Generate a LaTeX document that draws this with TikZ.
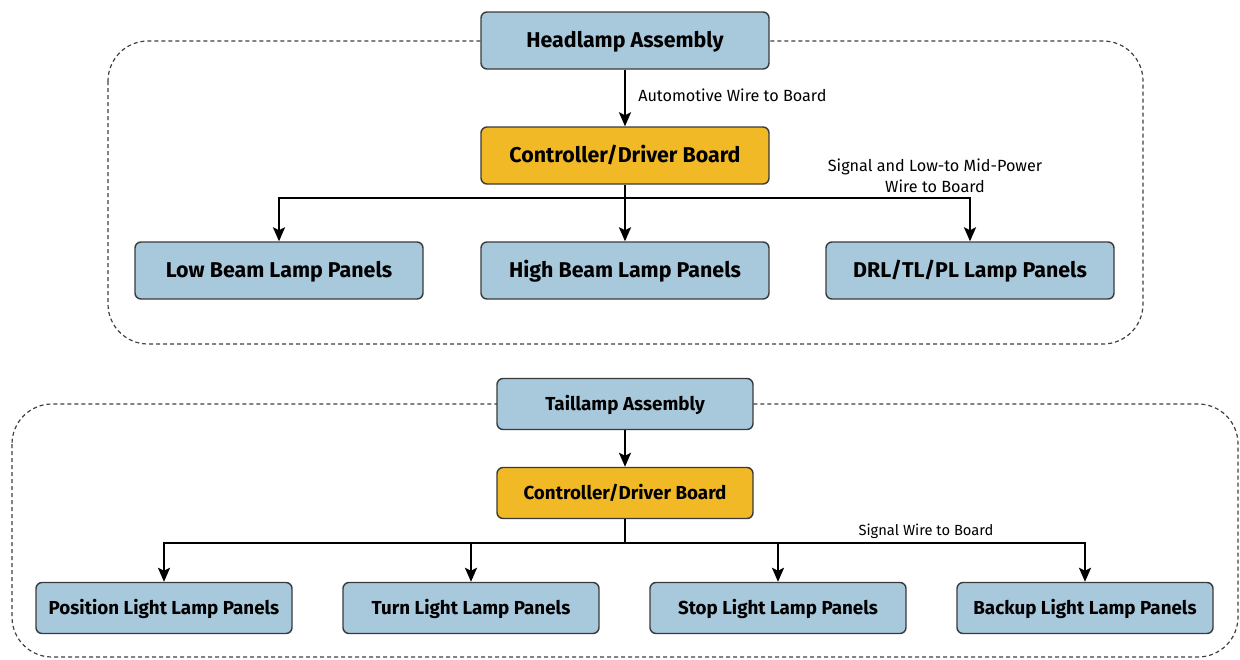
\documentclass[tikz,border=0pt]{standalone}
\usepackage{fontspec}
\setmainfont{Fira Sans}
\usetikzlibrary{arrows.meta}
\definecolor{boxblue}{HTML}{A8C8DC}
\definecolor{boxyellow}{HTML}{F2B927}
\definecolor{edge}{HTML}{3A3A3A}
\begin{document}
\begin{tikzpicture}[x=1pt,y=-1pt,
  bigbox/.style={draw=edge,line width=1.4pt,rounded corners=6pt,minimum width=288pt,minimum height=57pt,inner sep=0pt,text height=14pt,text depth=0pt,font=\bfseries\fontsize{21.4}{24}\selectfont},
  smallbox/.style={draw=edge,line width=1.4pt,rounded corners=6pt,minimum width=256pt,minimum height=51pt,inner sep=0pt,text height=12.5pt,text depth=0pt,font=\bfseries\fontsize{18.8}{22}\selectfont},
  blue/.style={fill=boxblue},
  yel/.style={fill=boxyellow},
  conn/.style={line width=2.5pt,-{Stealth[length=14pt,width=12pt,inset=3pt]}},
  wire/.style={line width=2.5pt},
  group/.style={draw=black!75,line width=1.2pt,dash pattern=on 4pt off 3pt,rounded corners=40pt},
  lbl/.style={font=\fontsize{16.2}{19}\selectfont,inner sep=0pt}
]
\useasboundingbox (0,0) rectangle (1240,659);
% groups
\draw[group] (108,41) rectangle (1143,344);
\draw[group] (12,404) rectangle (1238,657);
% top diagram
\node[bigbox,blue] (ha) at (625,40.5) {Headlamp Assembly};
\node[bigbox,yel] (cb1) at (625,155.5) {Controller/Driver Board};
\node[bigbox,blue] (lb) at (279,270.5) {Low Beam Lamp Panels};
\node[bigbox,blue] (hb) at (625,270.5) {High Beam Lamp Panels};
\node[bigbox,blue] (drl) at (970,270.5) {DRL/TL/PL Lamp Panels};
\coordinate (j1) at (625,198);
\draw[conn] (ha) -- node[lbl,pos=0.45,right=12pt,anchor=west]{Automotive Wire to Board} (cb1);
\draw[wire] (cb1) -- (j1);
\draw[conn] (j1) -| (lb);
\draw[conn] (j1) -- (hb);
\draw[conn] (j1) -| (drl);
\node[lbl,align=center,font=\fontsize{16.2}{21}\selectfont] (l2) at (935,176) {Signal and Low-to Mid-Power\\Wire to Board};
% bottom diagram
\node[smallbox,blue] (ta) at (625,404) {Taillamp Assembly};
\node[smallbox,yel] (cb2) at (625,493) {Controller/Driver Board};
\node[smallbox,blue] (pl) at (164,608) {Position Light Lamp Panels};
\node[smallbox,blue] (tl) at (471,608) {Turn Light Lamp Panels};
\node[smallbox,blue] (sl) at (778,608) {Stop Light Lamp Panels};
\node[smallbox,blue] (bl) at (1085,608) {Backup Light Lamp Panels};
\coordinate (j2) at (625,543);
\draw[conn] (ta) -- (cb2);
\draw[wire] (cb2) -- (j2);
\draw[conn] (j2) -| (pl);
\draw[conn] (j2) -| (tl);
\draw[conn] (j2) -| (sl);
\draw[conn] (j2) -| (bl);
\node[lbl,font=\fontsize{14.7}{17}\selectfont] (l3) at (926,531) {Signal Wire to Board};
\end{tikzpicture}
\end{document}
